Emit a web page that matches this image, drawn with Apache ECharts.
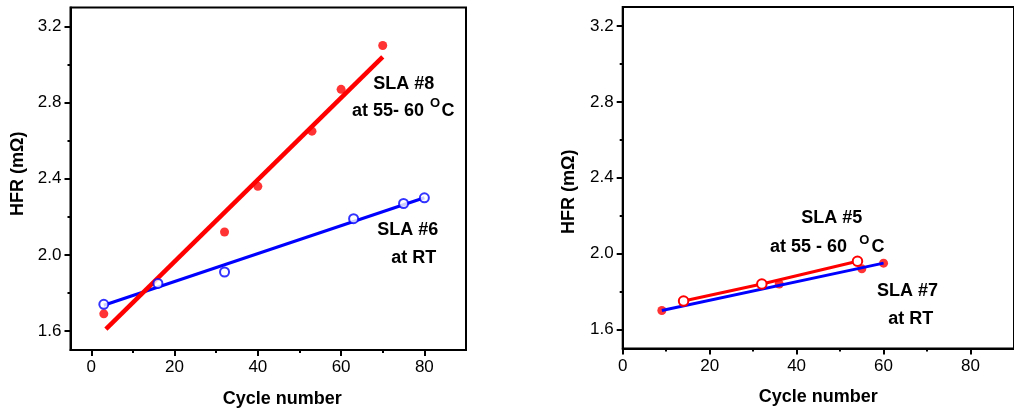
<!DOCTYPE html>
<html>
<head>
<meta charset="utf-8">
<script src="https://cdn.jsdelivr.net/npm/echarts@6/dist/echarts.min.js"></script>
<style>
html,body{margin:0;padding:0;background:#fff;}
#chart{width:1014px;height:415px;}
</style>
</head>
<body>
<div id="chart"></div>
<script>
// ---- data ----
const xMajorTicks = [0, 20, 40, 60, 80];
const xMinorTicks = [10, 30, 50, 70];
const yMajorTicks = [1.6, 2.0, 2.4, 2.8, 3.2];
const yMinorTicks = [1.8, 2.2, 2.6, 3.0];

// left panel
const sla8 = [[3, 1.69], [32, 2.12], [40, 2.36], [53, 2.65], [60, 2.87], [70, 3.10]];
const sla8Fit = [[3.5, 1.61], [70, 3.04]];
const sla6 = [[3, 1.74], [16, 1.85], [32, 1.91], [63, 2.19], [75, 2.27], [80, 2.30]];
const sla6Fit = [[3, 1.735], [80, 2.30]];
// right panel
const sla5 = [[14, 1.75], [32, 1.84], [54, 1.96]];
const sla7 = [[9, 1.70], [36, 1.84], [55, 1.92], [60, 1.95]];
const sla7Fit = [[9, 1.70], [60, 1.95]];

const FONT = 'Liberation Sans, Arial, Helvetica, sans-serif';
const RED = '#ff0000', BLUE = '#0000ff';

function majorX(grid, min, max, namePad) {
  return {
    type: 'value', gridIndex: grid, min: min, max: max, position: 'bottom',
    name: 'Cycle number', nameLocation: 'middle', nameGap: 40,
    nameTextStyle: {fontFamily: FONT, fontSize: 18, fontWeight: 'bold', color: '#000', padding: namePad},
    axisLine: {show: true, onZero: false, lineStyle: {color: '#000', width: 2}},
    axisTick: {show: true, length: 6, lineStyle: {color: '#000', width: 2}, customValues: xMajorTicks},
    axisLabel: {show: true, margin: 9, fontFamily: FONT, fontSize: 17, color: '#000', customValues: xMajorTicks},
    splitLine: {show: false}
  };
}
function minorX(grid, min, max) {
  return {
    type: 'value', gridIndex: grid, min: min, max: max, position: 'bottom',
    axisLine: {show: false, onZero: false},
    axisTick: {show: true, length: 3, lineStyle: {color: '#000', width: 2}, customValues: xMinorTicks},
    axisLabel: {show: false}, splitLine: {show: false}
  };
}
function majorY(grid, namePad, gap) {
  return {
    type: 'value', gridIndex: grid, min: 1.5, max: 3.3, position: 'left',
    name: 'HFR (mΩ)', nameLocation: 'middle', nameGap: gap, nameRotate: 90,
    nameTextStyle: {fontFamily: FONT, fontSize: 18, fontWeight: 'bold', color: '#000', padding: namePad},
    axisLine: {show: true, onZero: false, lineStyle: {color: '#000', width: 2}},
    axisTick: {show: true, length: 6, lineStyle: {color: '#000', width: 2}, customValues: yMajorTicks},
    axisLabel: {show: true, margin: 9, fontFamily: FONT, fontSize: 17, color: '#000', customValues: yMajorTicks,
      formatter: v => Number(v).toFixed(1)},
    splitLine: {show: false}
  };
}
function minorY(grid) {
  return {
    type: 'value', gridIndex: grid, min: 1.5, max: 3.3, position: 'left',
    axisLine: {show: false, onZero: false},
    axisTick: {show: true, length: 3, lineStyle: {color: '#000', width: 2}, customValues: yMinorTicks},
    axisLabel: {show: false}, splitLine: {show: false}
  };
}

function txt(x, y, text, align, size) {
  return {
    type: 'text', x: x, y: y, z: 100,
    style: {text: text, fontFamily: FONT, fontSize: size || 18, fontWeight: 'bold', fill: '#000',
      align: align || 'center', verticalAlign: 'middle'}
  };
}

const chart = echarts.init(document.getElementById('chart'), null, {renderer: 'canvas'});
chart.setOption({
  animation: false,
  backgroundColor: '#fff',
  grid: [
    {left: 70.5, top: 7.5, width: 395.5, height: 342.5, show: true, borderColor: '#000', borderWidth: 2, backgroundColor: 'transparent'},
    {left: 622.7, top: 7, width: 400, height: 341.5, show: true, borderColor: '#000', borderWidth: 2, backgroundColor: 'transparent'}
  ],
  xAxis: [majorX(0, -5, 90, [0, 0, 0, 28]), minorX(0, -5, 90), majorX(1, 0, 90, 0), minorX(1, 0, 90)],
  yAxis: [majorY(0, [0, 0, 0, 10], 43), minorY(0), majorY(1, [0, 28, 0, 0], 45), minorY(1)],
  series: [
    {type: 'line', xAxisIndex: 0, yAxisIndex: 0, data: sla6Fit, showSymbol: false, symbol: 'none',
      lineStyle: {color: BLUE, width: 3}, z: 2},
    {type: 'line', xAxisIndex: 0, yAxisIndex: 0, data: sla8Fit, showSymbol: false, symbol: 'none',
      lineStyle: {color: RED, width: 4.5}, z: 3},
    {type: 'scatter', xAxisIndex: 0, yAxisIndex: 0, data: sla8, symbol: 'circle', symbolSize: 9,
      itemStyle: {color: RED}, z: 4},
    {type: 'scatter', xAxisIndex: 0, yAxisIndex: 0, data: sla6, symbol: 'emptyCircle', symbolSize: 9,
      itemStyle: {color: BLUE, borderColor: BLUE, borderWidth: 1.5}, z: 4},

    {type: 'scatter', xAxisIndex: 2, yAxisIndex: 2, data: sla7, symbol: 'circle', symbolSize: 9,
      itemStyle: {color: RED}, z: 2},
    {type: 'line', xAxisIndex: 2, yAxisIndex: 2, data: sla7Fit, showSymbol: false, symbol: 'none',
      lineStyle: {color: BLUE, width: 3}, z: 3},
    {type: 'line', xAxisIndex: 2, yAxisIndex: 2, data: sla5, symbol: 'emptyCircle', symbolSize: 9.5, showSymbol: true,
      itemStyle: {color: RED, borderColor: RED, borderWidth: 1.8},
      lineStyle: {color: RED, width: 3}, z: 4}
  ],
  graphic: [
    txt(403.8, 84.3, 'SLA #8'),
    txt(352, 111.3, 'at 55- 60', 'left'),
    txt(430, 103, 'O', 'left', 13),
    txt(441.5, 111.3, 'C', 'left'),
    txt(407.7, 230, 'SLA #6'),
    txt(413.8, 258.3, 'at RT'),

    txt(831.7, 218.3, 'SLA #5'),
    txt(770, 247.3, 'at 55 - 60', 'left'),
    txt(859.3, 240, 'O', 'left', 13),
    txt(871.5, 247.3, 'C', 'left'),
    txt(907.5, 290.7, 'SLA #7'),
    txt(910.8, 319.3, 'at RT')
  ]
});
</script>
</body>
</html>
